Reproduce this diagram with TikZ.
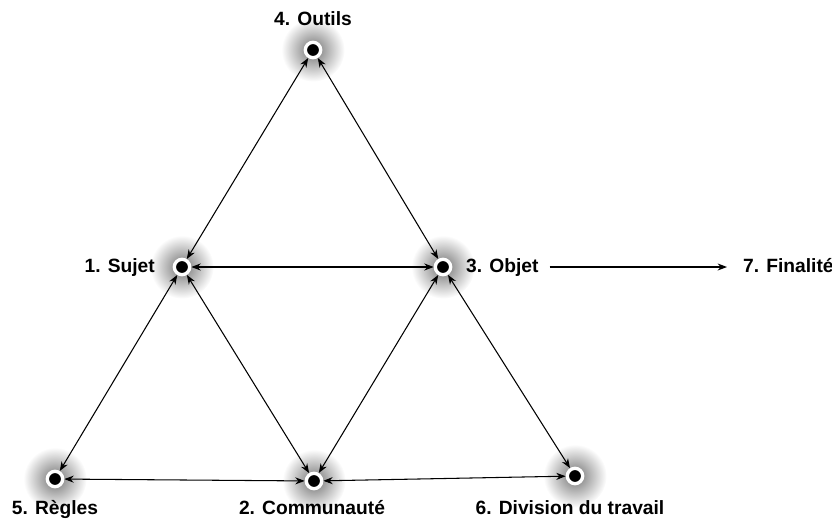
\documentclass[tikz,border=0pt]{standalone}
\usepackage{fontspec}
\setmainfont{Liberation Sans}
\usetikzlibrary{arrows.meta,positioning,backgrounds}

\tikzset{
  pt/.style={circle,fill=black,draw=white,line width=0.1cm,minimum size=0.46cm,inner sep=0pt},
  halo/.style={inner color=black!55,outer color=white},
  lbl/.style={font=\fontsize{16.4}{19}\selectfont\bfseries,inner sep=0pt},
  link/.style={{Stealth[length=8pt,width=6pt]}-{Stealth[length=8pt,width=6pt]},line width=0.9pt},
}

\begin{document}
\begin{tikzpicture}[x=0.03cm,y=-0.03cm]
\useasboundingbox (0,0) rectangle (832,520);

% points
\node[pt] (outils) at (313,50) {};
\node[pt] (sujet) at (182,267) {};
\node[pt] (objet) at (443,267) {};
\node[pt] (regles) at (55,479) {};
\node[pt] (commun) at (314,481) {};
\node[pt] (division) at (575,476) {};

% labels
\node[lbl,anchor=base] (outilsl) at (313,25) {4. Outils};
\node[lbl,anchor=base east] (sujetl) at (155,272) {1. Sujet};
\node[lbl,anchor=base west] (objetl) at (466,272) {3. Objet};
\node[lbl,anchor=base west] (finl) at (743,272) {7. Finalit\'e};
\node[lbl,anchor=base] (reglesl) at (55,514) {5. R\`egles};
\node[lbl,anchor=base] (communl) at (312,514) {2. Communaut\'e};
\node[lbl,anchor=base] (divisionl) at (570,514) {6. Division du travail};

% halos
\begin{scope}[on background layer]
\foreach \p in {outils,sujet,objet,regles,commun,division}
  \shade[halo] (\p) circle (0.95cm);
\end{scope}

% links
\foreach \a/\b in {outils/sujet,outils/objet,sujet/objet,sujet/regles,sujet/commun,
                   objet/commun,objet/division,regles/commun,commun/division}
  \draw[link] (\a) -- (\b);
\draw[-{Stealth[length=8pt,width=6pt]},line width=0.9pt,shorten <=0.33cm,shorten >=0.48cm]
  (objetl.east |- objet) -- (finl.west |- objet);

\end{tikzpicture}
\end{document}
